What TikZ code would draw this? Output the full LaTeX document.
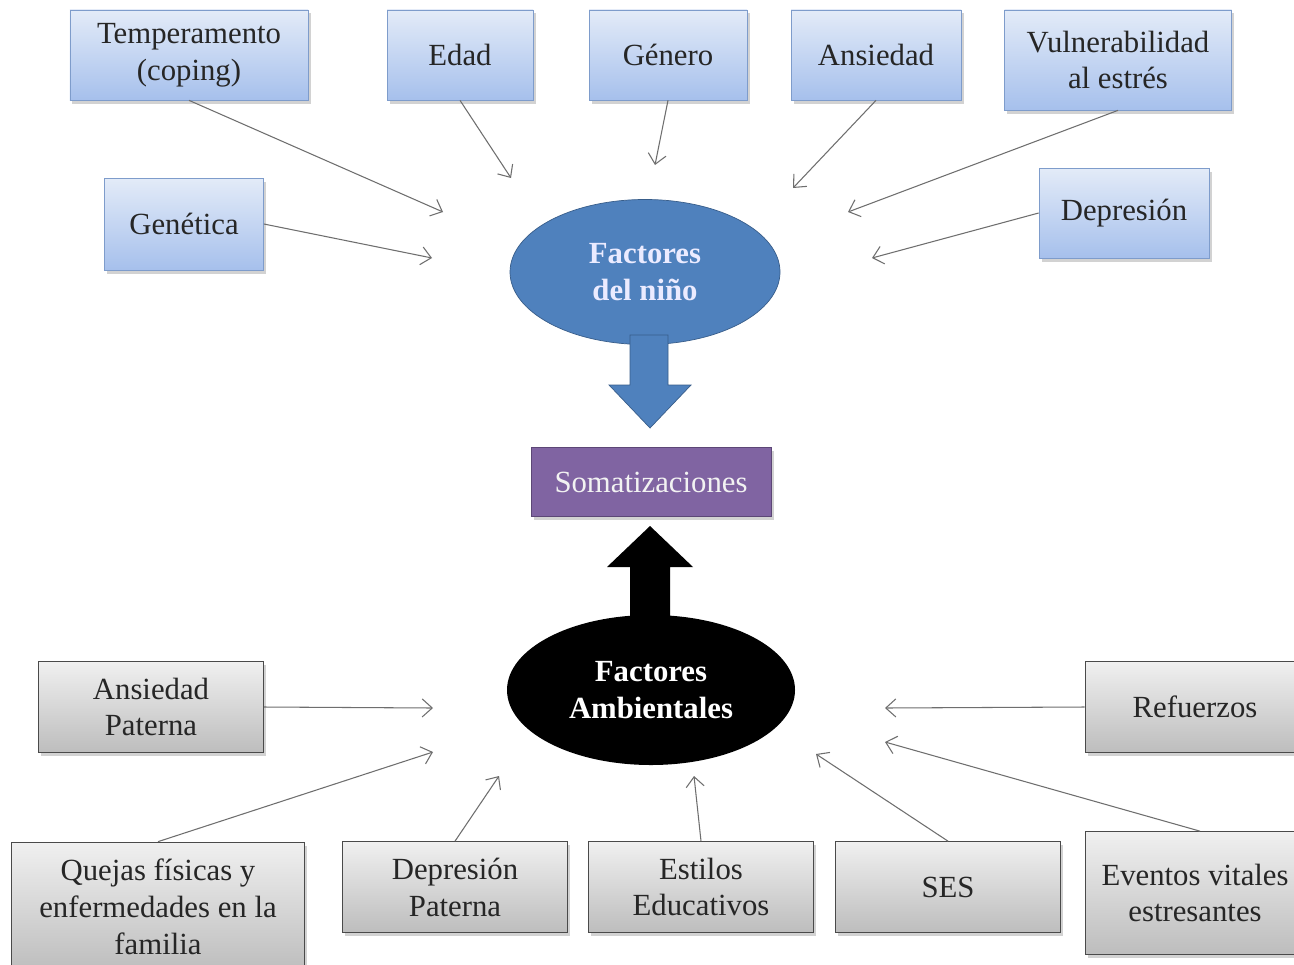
\documentclass[tikz,border=0pt]{standalone}
\usepackage{fontspec}
\setmainfont{Liberation Serif}
\usetikzlibrary{arrows.meta,shadows,shapes.geometric}

\definecolor{azulclaro}{HTML}{E3EBF8}
\definecolor{azulosc}{HTML}{A6C0EC}
\definecolor{azulborde}{HTML}{7E9CCB}
\definecolor{azulelipse}{HTML}{4F81BD}
\definecolor{azulelipseb}{HTML}{385D8A}
\definecolor{grisclaro}{HTML}{F0F0F0}
\definecolor{grisosc}{HTML}{BDBDBD}
\definecolor{grisborde}{HTML}{4A4A4A}
\definecolor{morado}{HTML}{8064A2}
\definecolor{moradob}{HTML}{5C4776}
\definecolor{linea}{HTML}{6E6E6E}

\begin{document}
\begin{tikzpicture}[x=0.2mm, y=-0.2mm,
	every node/.style={font=\fontsize{17.5}{21}\selectfont, align=center, text=black!85},
	sombra/.style={drop shadow={opacity=.35, shadow xshift=.5mm, shadow yshift=-.7mm}},
	azul/.style={sombra, draw=azulborde, top color=azulclaro, bottom color=azulosc, minimum height=18mm},
	gris/.style={sombra, draw=grisborde, top color=grisclaro, bottom color=grisosc, minimum width=45mm, minimum height=18.2mm},
	elipse/.style={ellipse, inner sep=0pt, font=\fontsize{17.5}{21}\selectfont\bfseries},
	flecha/.style={draw=linea, line width=.6pt, -{Straight Barb[length=2mm,width=3.6mm]}}]
	\fill[white] (0,0) rectangle (1294,964);
	\useasboundingbox (0,0) rectangle (1294,964);

	% factores del nino
	\node[azul, minimum width=47.6mm] (temp) at (189,55) {Temperamento\\(coping)};
	\node[azul, minimum width=29.2mm] (edad) at (460,55) {Edad};
	\node[azul, minimum width=31.6mm] (genero) at (668,55) {Género};
	\node[azul, minimum width=34mm] (ansiedad) at (876,55) {Ansiedad};
	\node[azul, minimum width=45.4mm, minimum height=20mm] (vuln) at (1118,60) {Vulnerabilidad\\al estrés};
	\node[azul, minimum width=31.8mm, minimum height=18.4mm] (genetica) at (184,224) {Genética};
	\node[azul, minimum width=34mm] (depresion) at (1124,213) {Depresión};

	\node[elipse, fill=azulelipse, draw=azulelipseb, minimum width=54mm, minimum height=29mm, text=white!92!blue] (nino) at (645,272) {Factores\\del niño};
	\draw[fill=azulelipse, draw=azulelipseb] (630,335) -- (630,385) -- (609,385) -- (650,428) -- (691,385) -- (668,385) -- (668,335) -- cycle;

	\node[sombra, fill=morado, draw=moradob, minimum width=48mm, minimum height=13.8mm, text=white!95!black] (somat) at (651,482) {Somatizaciones};

	\fill[black] (630,620) -- (630,567) -- (607,567) -- (650,526) -- (693,567) -- (670,567) -- (670,620) -- cycle;
	\node[elipse, fill=black, minimum width=57.6mm, minimum height=30mm, text=white] (amb) at (651,690) {Factores\\Ambientales};

	% factores ambientales
	\node[gris] (apat) at (151,707) {Ansiedad\\Paterna};
	\node[gris, minimum width=44mm] (refuerzos) at (1195,707) {Refuerzos};
	\node[gris, minimum width=58.6mm, minimum height=26mm] (quejas) at (158,907) {Quejas físicas y\\enfermedades en la\\familia};
	\node[gris] (dpat) at (455,887) {Depresión\\Paterna};
	\node[gris] (estilos) at (701,887) {Estilos\\Educativos};
	\node[gris] (ses) at (948,887) {SES};
	\node[gris, minimum width=44mm, minimum height=24.6mm] (eventos) at (1195,893) {Eventos vitales\\estresantes};

	% puntas libres
	\coordinate (p1) at (443,212);
	\coordinate (p2) at (511,178);
	\coordinate (p3) at (655,165);
	\coordinate (p4) at (793,188);
	\coordinate (p5) at (848,212);
	\coordinate (p6) at (432,258);
	\coordinate (p7) at (872,258);
	\coordinate (q1) at (433,708);
	\coordinate (q2) at (433,752);
	\coordinate (q3) at (499,776);
	\coordinate (q4) at (694,776);
	\coordinate (q5) at (816,754);
	\coordinate (q6) at (885,708);
	\coordinate (q7) at (885,742);

	\draw[flecha] (temp.south) -- (p1);
	\draw[flecha] (edad.south) -- (p2);
	\draw[flecha] (genero.south) -- (p3);
	\draw[flecha] (ansiedad.south) -- (p4);
	\draw[flecha] (vuln.south) -- (p5);
	\draw[flecha] (genetica.east) -- (p6);
	\draw[flecha] (depresion.west) -- (p7);
	\draw[flecha] (apat.east) -- (q1);
	\draw[flecha] (quejas.north) -- (q2);
	\draw[flecha] (dpat.north) -- (q3);
	\draw[flecha] (estilos.north) -- (q4);
	\draw[flecha] (ses.north) -- (q5);
	\draw[flecha] (refuerzos.west) -- (q6);
	\draw[flecha] ([xshift=1mm]eventos.north) -- (q7);
\end{tikzpicture}
\end{document}
